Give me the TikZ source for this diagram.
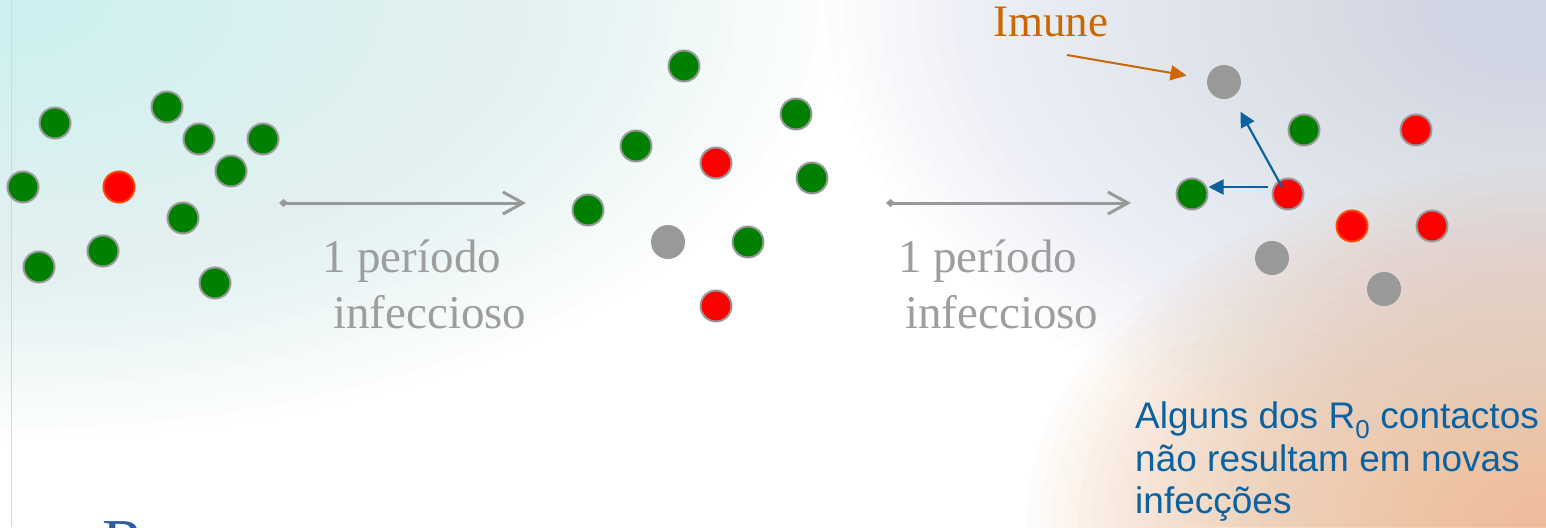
\documentclass[tikz,border=0pt]{standalone}
\usepackage{fontspec}
\setmainfont{Liberation Serif}
\setsansfont{Liberation Sans}
\usepackage{xcolor}
\usepackage{tikz}
\usetikzlibrary{positioning,arrows.meta}

\definecolor{sgreen}{RGB}{0,128,0}
\definecolor{ired}{RGB}{255,0,0}
\definecolor{rimgray}{RGB}{153,153,153}
\definecolor{rimorange}{RGB}{255,70,0}
\definecolor{txtgray}{RGB}{158,158,158}
\definecolor{imuneor}{RGB}{204,102,0}
\definecolor{noteblue}{RGB}{12,98,160}
\definecolor{titleblue}{RGB}{46,94,160}
\definecolor{bgcyan}{RGB}{206,240,240}
\definecolor{bgblue}{RGB}{206,214,228}
\definecolor{bgpeach}{RGB}{238,182,140}

\tikzset{
  dot/.style={circle, minimum size=31pt, inner sep=0pt, line width=2pt},
  susc/.style={dot, fill=sgreen, draw=rimgray},
  infc/.style={dot, fill=ired, draw=rimgray},
  newc/.style={dot, fill=ired, draw=rimorange},
  immc/.style={dot, minimum size=34pt, fill=rimgray},
  period/.style={anchor=base west, inner sep=0pt, text=txtgray, font=\fontsize{47}{56}\selectfont},
  timestep/.style={draw=rimgray, line width=3pt, {Diamond[length=9pt,width=8pt]}-{Straight Barb[length=20pt,width=22pt]}},
  contact/.style={draw=noteblue, line width=2.2pt, -{Triangle[length=15pt,width=15pt]}},
}

\begin{document}
\begin{tikzpicture}[x=1pt, y=-1pt, >=Latex]
  \useasboundingbox (0,0) rectangle (1546,527);

  % background
  \fill[white] (0,0) rectangle (1546,527);
  \foreach \k in {1,...,40} {
    \fill[bgcyan, opacity=0.035] (0,0) ellipse [x radius=21*\k, y radius=11*\k];
    \fill[bgblue, opacity=0.035] (1546,0) ellipse [x radius=18*\k, y radius=11.5*\k];
    \fill[bgpeach, opacity=0.04] (1546,527) ellipse [x radius=13*\k, y radius=9*\k];
  }
  \draw[rimgray!40, line width=1.5pt] (11.5,0) -- (11.5,527);

  % first generation
  \node[susc] (a1) at (55,123) {};
  \node[susc] (a2) at (167,107) {};
  \node[susc] (a3) at (199,139) {};
  \node[susc] (a4) at (263,139) {};
  \node[susc] (a5) at (231,171) {};
  \node[susc] (a6) at (23,187) {};
  \node[newc] (a7) at (119,187) {};
  \node[susc] (a8) at (183,218) {};
  \node[susc] (a9) at (103,251) {};
  \node[susc] (a10) at (39,267) {};
  \node[susc] (a11) at (215,283) {};

  % second generation
  \node[susc] (b1) at (684,66) {};
  \node[susc] (b2) at (796,114) {};
  \node[susc] (b3) at (636,146) {};
  \node[infc] (b4) at (716,163) {};
  \node[susc] (b5) at (812,178) {};
  \node[susc] (b6) at (588,210) {};
  \node[immc] (b7) at (668,242) {};
  \node[susc] (b8) at (748,242) {};
  \node[infc] (b9) at (716,306) {};

  % third generation
  \node[immc] (c1) at (1224,82) {};
  \node[susc] (c2) at (1304,130) {};
  \node[infc] (c3) at (1416,130) {};
  \node[susc] (c4) at (1192,194) {};
  \node[infc] (c5) at (1288,194) {};
  \node[newc] (c6) at (1352,226) {};
  \node[infc] (c7) at (1432,226) {};
  \node[immc] (c8) at (1272,258) {};
  \node[immc] (c9) at (1384,289) {};

  % time steps
  \coordinate (s1) at (279,203);
  \coordinate (e1) at (526,203);
  \coordinate (s2) at (886,203);
  \coordinate (e2) at (1131,203);
  \draw[timestep] (s1) -- (e1);
  \draw[timestep] (s2) -- (e2);
  \node[period] (per1) at (322,272) {1 período};
  \node[period] (inf1) at (333,328) {infeccioso};
  \node[period] (per2) at (898,272) {1 período};
  \node[period] (inf2) at (905,328) {infeccioso};

  % immune label
  \node[anchor=base west, inner sep=0pt, text=imuneor, font=\fontsize{45}{54}\selectfont] (imune) at (993,37) {Imune};
  \coordinate (imtail) at (1067,55);
  \draw[imuneor, line width=2pt, -{Triangle[length=16pt,width=15pt]}, shorten >=20pt] (imtail) -- (c1);

  % contacts
  \draw[contact] ([xshift=-4pt,yshift=7pt]c5.west) -- ([yshift=7pt]c4.east);
  \draw[contact, shorten >=16pt] ([xshift=-6pt,yshift=7pt]c5.center) -- (c1);

  \node[anchor=north west, inner sep=0pt, align=left, text=noteblue, font=\sffamily\fontsize{37}{42.5}\selectfont] (note) at (1135,401.5)
    {Alguns dos R\textsubscript{0} contactos\\não resultam em novas\\infecções};

  \node[anchor=north west, inner sep=0pt, text=titleblue, font=\fontsize{64}{70}\selectfont] (ttl) at (102,521) {R};
\end{tikzpicture}
\end{document}
